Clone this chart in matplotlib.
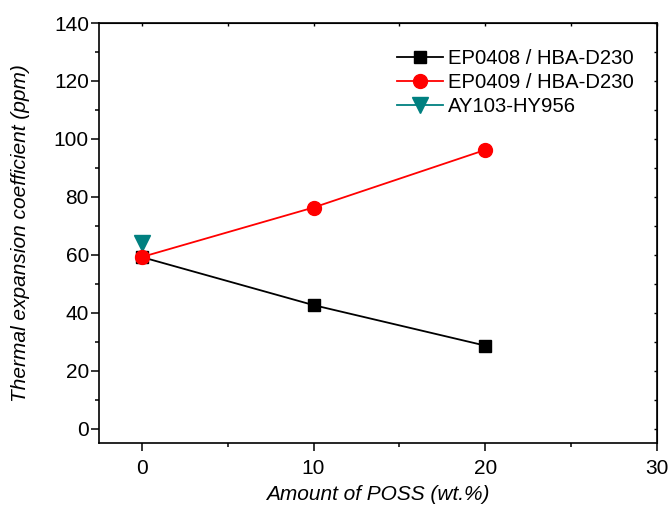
import matplotlib
matplotlib.use("Agg")
import matplotlib.pyplot as plt
from matplotlib.ticker import MultipleLocator

plt.rcParams['font.family'] = ['Liberation Sans', 'DejaVu Sans']

x_poss = [0, 10, 20]
ep0408 = [59.2, 42.6, 28.6]
ep0409 = [59.2, 76.3, 96.2]
ay_x = [0]
ay103 = [64.2]

fig = plt.figure(figsize=(6.7, 5.09), dpi=100)
ax = fig.add_axes([0.1473, 0.1297, 0.981 - 0.1473, 0.9548 - 0.1297])

ax.plot(x_poss, ep0408, color='black', marker='s', markersize=9, lw=1.3,
        label='EP0408 / HBA-D230', zorder=3)
ax.plot(x_poss, ep0409, color='red', marker='o', markersize=10, lw=1.3,
        label='EP0409 / HBA-D230', zorder=4)
ax.plot(ay_x, ay103, color='#008080', marker='v', markersize=12, lw=1.3,
        label='AY103-HY956', zorder=2)

ax.set_xlim(-2.5, 30)
ax.set_ylim(-5, 140)
ax.xaxis.set_major_locator(MultipleLocator(10))
ax.xaxis.set_minor_locator(MultipleLocator(5))
ax.yaxis.set_major_locator(MultipleLocator(20))
ax.yaxis.set_minor_locator(MultipleLocator(10))

ax.tick_params(which='both', direction='out', labelsize=15, width=1.1)
ax.tick_params(axis='y', which='major', length=6, pad=1)
ax.tick_params(axis='y', which='minor', length=3)
ax.tick_params(axis='x', which='major', length=5.5, pad=6)
ax.tick_params(axis='x', which='minor', length=3)

sx = ax.secondary_xaxis('top')
sx.xaxis.set_major_locator(MultipleLocator(10))
sx.xaxis.set_minor_locator(MultipleLocator(5))
sx.tick_params(which='both', direction='in', length=2.5, labeltop=False, width=1)
sy = ax.secondary_yaxis('right')
sy.yaxis.set_major_locator(MultipleLocator(20))
sy.yaxis.set_minor_locator(MultipleLocator(10))
sy.tick_params(which='both', direction='in', length=2.5, labelright=False, width=1)

for s in ax.spines.values():
    s.set_linewidth(1.2)

ax.set_xlabel('Amount of POSS (wt.%)', fontsize=15, style='italic')
ax.set_ylabel('Thermal expansion coefficient (ppm)', fontsize=15, style='italic')
ax.xaxis.set_label_coords(0.5, -0.1)
ax.yaxis.set_label_coords(-0.123, 0.5)

ax.legend(loc='upper right', frameon=False, fontsize=14.6, handlelength=2.3,
          borderaxespad=0.5, labelspacing=0.25, handletextpad=0.25, borderpad=0.4,
          bbox_to_anchor=(1 - 5 / 558.6, 1 - 8 / 420))

fig.savefig('out.png', dpi=100)
